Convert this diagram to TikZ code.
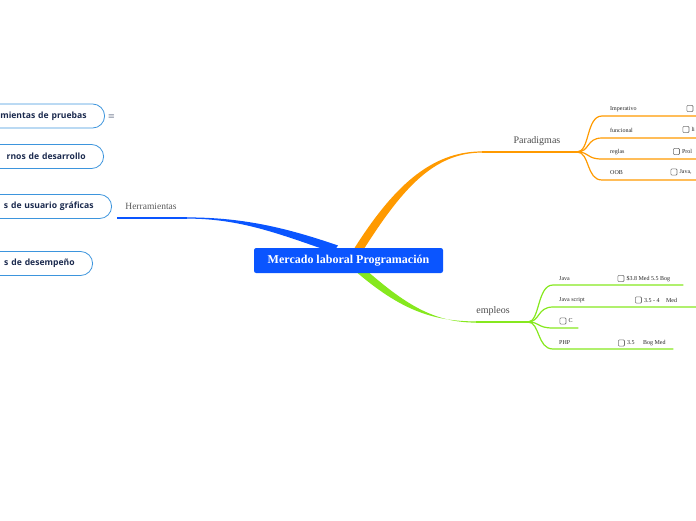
\documentclass[tikz,border=0pt]{standalone}
\usepackage{fontspec}
\setmainfont{Liberation Serif}
\newfontfamily\boxfont{Open Sans}
\usetikzlibrary{positioning}
\definecolor{mapblue}{HTML}{0A55FF}
\definecolor{maporange}{HTML}{FF9A00}
\definecolor{mapgreen}{HTML}{86E81E}
\definecolor{boxline}{HTML}{3D95DD}
\definecolor{boxtext}{HTML}{1B2A4E}
\tikzset{
  cen/.style={rectangle,rounded corners=2.2pt,fill=mapblue,text=white,font=\bfseries\fontsize{12}{14}\selectfont,minimum width=189pt,minimum height=25pt,inner sep=0pt},
  tool/.style={rectangle,rounded corners=12pt,draw=boxline,line width=.8pt,fill=white,text=boxtext,font=\boxfont\bfseries\fontsize{8.6}{10}\selectfont,minimum height=24pt,inner xsep=18pt,inner ysep=0pt,text width=160pt,align=right,anchor=east},
  tb/.style={font=\fontsize{10}{12}\selectfont,text=black!70},
  lb/.style={font=\fontsize{6}{7}\selectfont,text=black!85,anchor=west,inner sep=0pt},
  chk/.style={rectangle,rounded corners=1pt,draw=black!55,line width=.6pt,minimum size=6.2pt,inner sep=0pt,anchor=west},
  ctx/.style={font=\fontsize{6}{7}\selectfont,text=black!85,inner sep=0pt,anchor=west},
  lnk/.style={line width=1.2pt,line cap=round},
}
\begin{document}
\begin{tikzpicture}[x=1pt,y=-1pt]
\useasboundingbox (0,0) rectangle (696,520);
\clip (0,0) rectangle (696,520);
% branch junctions
\coordinate (herr) at (117,218);
\coordinate (hb) at (187,218);
\coordinate (pb) at (482,152);
\coordinate (pj) at (577,152);
\coordinate (eb) at (476,322);
\coordinate (ej) at (528,322);
% main branches, thick at the centre
\fill[mapblue] (187,217.4) .. controls (240,217.4) and (283,226.5) .. (338,245.5)
  -- (333,252.5) .. controls (278,233.5) and (240,218.6) .. (187,218.6) -- cycle;
\draw[mapblue,line width=1.2pt] (hb) -- (herr);
\fill[maporange] (352,252) .. controls (392,188) and (430,151.4) .. (482,151.4)
  -- (482,152.6) .. controls (432,152.6) and (400,192) .. (362,252) -- cycle;
\draw[maporange,line width=1.2pt] (pb) -- (pj);
\fill[mapgreen] (354,270) .. controls (398,308) and (430,321.4) .. (476,321.4)
  -- (476,322.6) .. controls (432,322.6) and (403,302) .. (366,270) -- cycle;
\draw[mapgreen,line width=1.2pt] (eb) -- (ej);
% centre
\node[cen] (mlp) at (348.5,260.5) {Mercado laboral Programación};
% Herramientas
\node[tb,font=\fontsize{9.5}{11}\selectfont,text=black!65] (her) at (151,206) {Herramientas};
\node[tool] (t1) at (105,116) {mientas de pruebas};
\node[text=boxtext,font=\fontsize{8}{9}\selectfont,inner sep=0pt] (t1m) at (111.5,116.5) {$\equiv$};
\node[tool] (t2) at (104,156.5) {rnos de desarrollo};
\node[tool] (t3) at (112,206.5) {s de usuario gráficas};
\node[tool] (t4) at (93,263.5) {s de desempeño};
% Paradigmas
\node[tb] (par) at (537,141) {Paradigmas};
\coordinate (imp) at (698,116);
\coordinate (fun) at (698,138);
\coordinate (reg) at (698,159);
\coordinate (oob) at (698,180);
\draw[lnk,maporange] (pj) .. controls (590,152) and (586,116) .. (602,116) -- (imp);
\draw[lnk,maporange] (pj) .. controls (590,152) and (586,138) .. (602,138) -- (fun);
\draw[lnk,maporange] (pj) .. controls (590,152) and (586,159) .. (602,159) -- (reg);
\draw[lnk,maporange] (pj) .. controls (590,152) and (586,180) .. (602,180) -- (oob);
\node[lb] (impl) at (610,109) {Imperativo};
\node[chk] (impc) at (686.5,108.5) {};
\node[lb] (funl) at (610,130) {funcional};
\node[chk] (func) at (682.5,129.5) {};
\node[ctx,right=2pt of func] (funt) {li};
\node[lb] (regl) at (610,152) {reglas};
\node[chk] (regc) at (673,151.5) {};
\node[ctx,right=2pt of regc] (regt) {Prol};
\node[lb] (oobl) at (610,173) {OOB};
\node[chk] (oobc) at (670.5,172) {};
\node[ctx,right=2pt of oobc] (oobt) {Java,};
% empleos
\node[tb] (emp) at (493,311) {empleos};
\coordinate (jav) at (683,285);
\coordinate (jvs) at (698,307);
\coordinate (cc) at (578,328);
\coordinate (php) at (673,349);
\draw[lnk,mapgreen] (ej) .. controls (540,322) and (537,285) .. (553,285) -- (jav);
\draw[lnk,mapgreen] (ej) .. controls (540,322) and (537,307) .. (553,307) -- (jvs);
\draw[lnk,mapgreen] (ej) .. controls (540,322) and (537,328) .. (553,328) -- (cc);
\draw[lnk,mapgreen] (ej) .. controls (540,322) and (537,349) .. (553,349) -- (php);
\node[lb] (javl) at (559,278.5) {Java};
\node[chk] (javc) at (617.5,278.5) {};
\node[ctx,right=2pt of javc] (javt) {\$3.8 Med 5.5 Bog};
\node[lb] (jvsl) at (559,300) {Java script};
\node[chk] (jvsc) at (635,300) {};
\node[ctx,right=2pt of jvsc] (jvst) {3.5 - 4\hspace{5pt} Med};
\node[chk] (ccc) at (559.5,321) {};
\node[ctx,right=2pt of ccc] (cct) {C};
\node[lb] (phpl) at (559,342.5) {PHP};
\node[chk] (phpc) at (618,343) {};
\node[ctx,right=2pt of phpc] (phpt) {3.5\hspace{7pt} Bog Med};
\end{tikzpicture}
\end{document}
